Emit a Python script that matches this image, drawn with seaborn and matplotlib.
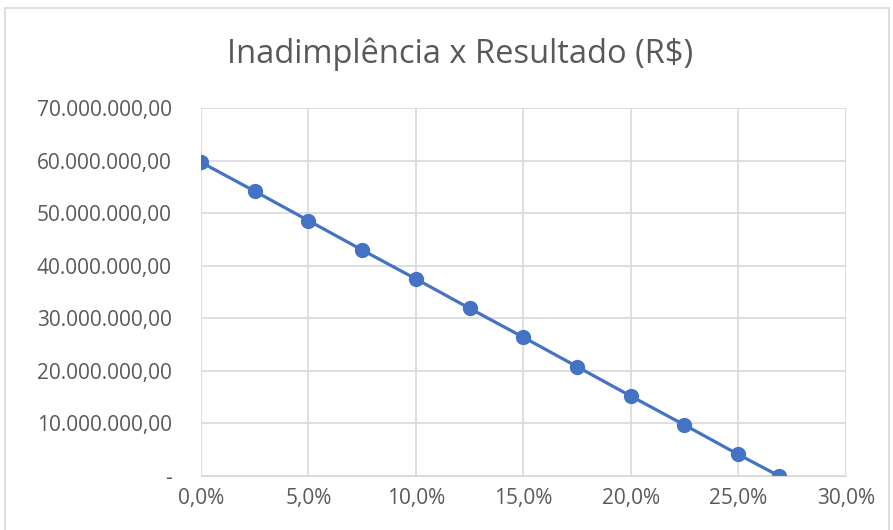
import matplotlib
matplotlib.use('Agg')
import matplotlib.pyplot as plt
import matplotlib.ticker as mticker
from matplotlib.patches import Rectangle
import seaborn as sns
import pandas as pd

# Data
inadimplencia = [0.0, 2.5, 5.0, 7.5, 10.0, 12.5, 15.0, 17.5, 20.0, 22.5, 25.0, 26.9]
resultado = [59.7e6, 54.2e6, 48.6e6, 43.0e6, 37.5e6, 31.9e6, 26.4e6, 20.8e6, 15.2e6, 9.7e6, 4.1e6, 0.0]

df = pd.DataFrame({'inad': inadimplencia, 'res': resultado})

sns.set_style('white')
plt.rcParams['font.family'] = ['Open Sans', 'DejaVu Sans']

text_color = '#595959'
grid_color = '#d9d9d9'
line_color = '#4472C4'

fig = plt.figure(figsize=(8.93, 5.30), dpi=100)
ax = fig.add_axes([0.225, 0.102, 0.722, 0.694])

sns.lineplot(data=df, x='inad', y='res', ax=ax, color=line_color, linewidth=2.3,
             marker='o', markersize=11, markeredgewidth=0)

ax.set_xlim(0, 30)
ax.set_ylim(0, 70e6)
ax.xaxis.set_major_locator(mticker.MultipleLocator(5))
ax.yaxis.set_major_locator(mticker.MultipleLocator(10e6))


def fmt_y(v, pos):
    if v == 0:
        return '-'
    return f'{v:,.2f}'.replace(',', 'X').replace('.', ',').replace('X', '.')


def fmt_x(v, pos):
    return f'{v:.1f}%'.replace('.', ',')


ax.yaxis.set_major_formatter(mticker.FuncFormatter(fmt_y))
ax.xaxis.set_major_formatter(mticker.FuncFormatter(fmt_x))

ax.grid(True, color=grid_color, linewidth=1.2)
ax.set_axisbelow(True)
for s in ax.spines.values():
    s.set_visible(False)
ax.spines['bottom'].set_visible(True)
ax.spines['bottom'].set_color(grid_color)
ax.tick_params(axis='both', length=0, labelsize=15, colors=text_color)
ax.tick_params(axis='y', pad=21)
ax.tick_params(axis='x', pad=9)
ax.set_xlabel('')
ax.set_ylabel('')

fig.text(0.515, 0.897, 'Inadimplência x Resultado (R$)', ha='center', va='center',
         fontsize=23.5, color=text_color)

fig.patches.append(Rectangle((0.006, -0.01), 0.99, 0.995, transform=fig.transFigure,
                             fill=False, edgecolor='#d9d9d9', linewidth=1.2))

fig.savefig('out.png', dpi=100)
